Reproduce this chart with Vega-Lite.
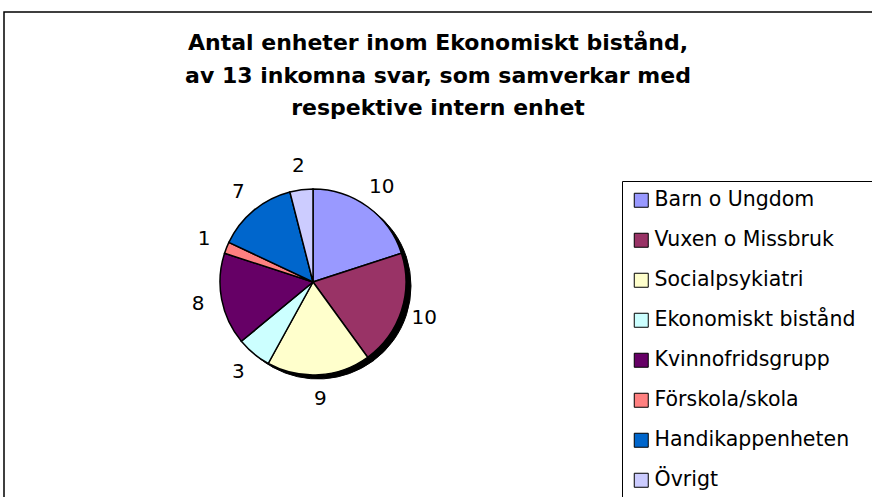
{
  "$schema": "https://vega.github.io/schema/vega-lite/v6.json",
  "width": 880,
  "height": 495,
  "autosize": {"type": "none"},
  "padding": {"left": 4, "top": 12, "right": 0, "bottom": 0},
  "background": "white",
  "view": {"stroke": "black", "strokeWidth": 1.5},
  "config": {
    "view": {"stroke": "black", "strokeWidth": 1.5},
    "font": "DejaVu Sans"
  },
  "title": {
    "text": ["Antal enheter inom Ekonomiskt bistånd,", "av 13 inkomna svar, som samverkar med", "respektive intern enhet"],
    "font": "DejaVu Sans",
    "fontSize": 22,
    "fontWeight": "bold",
    "lineHeight": 32.5,
    "anchor": "start",
    "frame": "bounds",
    "dx": 434,
    "align": "center",
    "offset": -108,
    "color": "black"
  },
  "data": {
    "values": [
      {"i": 1, "enhet": "Barn o Ungdom", "antal": 10},
      {"i": 2, "enhet": "Vuxen o Missbruk", "antal": 10},
      {"i": 3, "enhet": "Socialpsykiatri", "antal": 9},
      {"i": 4, "enhet": "Ekonomiskt bistånd", "antal": 3},
      {"i": 5, "enhet": "Kvinnofridsgrupp", "antal": 8},
      {"i": 6, "enhet": "Förskola/skola", "antal": 1},
      {"i": 7, "enhet": "Handikappenheten", "antal": 7},
      {"i": 8, "enhet": "Övrigt", "antal": 2}
    ]
  },
  "encoding": {
    "theta": {"field": "antal", "type": "quantitative", "stack": true},
    "order": {"field": "i", "type": "quantitative"}
  },
  "layer": [
    {
      "mark": {"type": "arc", "outerRadius": 93, "x": 314, "y": 274, "fill": "black", "stroke": "black", "strokeWidth": 1}
    },
    {
      "mark": {"type": "arc", "outerRadius": 93, "x": 309, "y": 270, "stroke": "black", "strokeWidth": 1.5},
      "encoding": {
        "color": {
          "field": "enhet",
          "type": "nominal",
          "sort": null,
          "scale": {
            "domain": ["Barn o Ungdom", "Vuxen o Missbruk", "Socialpsykiatri", "Ekonomiskt bistånd", "Kvinnofridsgrupp", "Förskola/skola", "Handikappenheten", "Övrigt"],
            "range": ["#9999FF", "#993366", "#FFFFCC", "#CCFFFF", "#660066", "#FF8080", "#0066CC", "#CCCCFF"]
          },
          "legend": {
            "title": null,
            "orient": "none",
            "legendX": 618,
            "legendY": 169,
            "strokeColor": "black",
            "fillColor": "white",
            "padding": 9,
            "symbolType": "square",
            "symbolSize": 196,
            "symbolStrokeColor": "black",
            "symbolStrokeWidth": 1,
            "symbolOpacity": 1,
            "labelFont": "DejaVu Sans",
            "labelFontSize": 20.5,
            "labelColor": "black",
            "labelOffset": 3,
            "labelLimit": 400,
            "labelExpr": "datum.label + '\u2800'",
            "rowPadding": 19
          }
        }
      }
    },
    {
      "mark": {"type": "text", "radius": 117, "x": 309, "y": 270, "font": "DejaVu Sans", "fontSize": 20, "color": "black"},
      "encoding": {
        "text": {"field": "antal", "type": "quantitative"}
      }
    }
  ]
}
